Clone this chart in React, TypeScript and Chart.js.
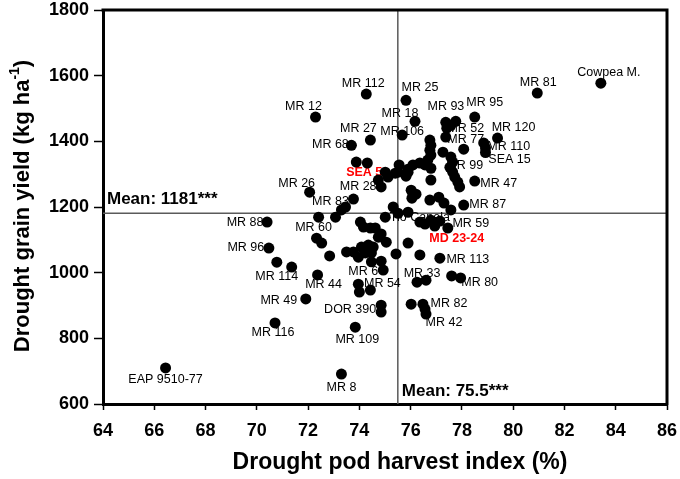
import React, { useEffect, useRef } from 'react';
import Chart from 'chart.js/auto';

const FAMILY = 'Arial, "Liberation Sans", sans-serif';

// axes
const xMin = 64;
const xMax = 86;
const xStep = 2;
const yMin = 600;
const yMax = 1800;
const yStep = 200;
const xTitle = 'Drought pod harvest index (%)';
const yTitleMain = 'Drought grain yield (kg ha';
const yTitleSup = '-1';

// trial means
const meanPhi = 75.5;
const meanYield = 1181;

// labelled genotypes
const labelNames = [
  'Cowpea M.', 'MR 81', 'MR 112', 'MR 25', 'MR 12', 'MR 18', 'MR 95', 'MR 93', 'MR 52',
  'MR 106', 'MR 27', 'MR 68', 'MR 120', 'MR 77', 'MR 110', 'SEA 15', 'MR 99', 'MR 47',
  'MR 87', 'MR 59', 'MD 23-24', 'Tio Canela', 'SEA 5', 'MR 26', 'MR 28', 'MR 83', 'MR 88',
  'MR 96', 'MR 60', 'MR 114', 'MR 44', 'MR 6', 'MR 54', 'MR 49', 'DOR 390', 'MR 116',
  'MR 109', 'EAP 9510-77', 'MR 8', 'MR 33', 'MR 113', 'MR 80', 'MR 82', 'MR 42',
];
const labelPhi = [
  83.42, 80.94, 74.27, 75.82, 72.29, 76.17, 78.5, 77.57, 77.41,
  75.67, 74.43, 73.69, 79.39, 78.07, 78.85, 78.92, 77.53, 78.5,
  78.07, 77.45, 76.94, 76.36, 75.01, 72.06, 74.85, 73.77, 70.4,
  70.47, 72.33, 71.36, 72.37, 74.93, 74.43, 71.91, 74.85, 70.71,
  73.84, 66.44, 73.3, 76.25, 77.14, 77.95, 76.48, 76.6,
];
const labelYield = [
  1577, 1547, 1544, 1525, 1474, 1461, 1474, 1449, 1440,
  1419, 1404, 1388, 1410, 1376, 1395, 1366, 1321, 1279,
  1206, 1136, 1142, 1154, 1306, 1245, 1261, 1224, 1154,
  1075, 1105, 1017, 993, 1008, 947, 920, 901, 847,
  834, 710, 691, 971, 1044, 984, 904, 874,
];
const highlighted = ['SEA 5', 'MD 23-24'];
const behindDots = ['Tio Canela'];

// unlabelled genotypes
const otherPhi = [
  77.76, 77.37, 77.37, 76.75, 76.79, 76.75, 78.92, 77.26, 77.57, 77.64,
  76.79, 76.67, 76.56, 76.79, 76.36, 76.09, 75.51, 75.9, 75.82, 77.64,
  77.72, 77.84, 77.91, 76.79, 76.02, 76.21, 76.05, 76.75, 77.1, 77.3,
  77.57, 75.51, 75.9, 75.32, 76.56, 76.79, 77.14, 74.85, 74.74, 75.05,
  76.36, 75.9, 75.43, 76.6, 77.6, 76.02, 76.56, 74.85, 73.96, 74.0,
  74.47, 74.85, 70.78, 72.41, 73.07, 74.04, 74.16, 74.43, 74.62, 75.01,
  72.53, 72.84, 74.08, 74.35, 74.54, 73.5, 73.77, 73.96, 74.23, 74.47,
  73.88, 74.31, 74.74, 75.12, 75.4, 75.55, 75.9, 73.46, 73.3,
];
const otherYield = [
  1461, 1458, 1413, 1404, 1388, 1373, 1380, 1367, 1352, 1337,
  1358, 1343, 1328, 1318, 1334, 1328, 1306, 1306, 1294, 1306,
  1291, 1276, 1261, 1282, 1251, 1239, 1227, 1221, 1230, 1212,
  1191, 1181, 1184, 1200, 1148, 1160, 1157, 1118, 1108, 1093,
  1054, 1090, 1057, 977, 990, 904, 889, 880, 965, 941,
  1033, 1035, 1032, 1169, 1169, 1154, 1139, 1136, 1136, 1169,
  1090, 1051, 1078, 1084, 1078, 1063, 1063, 1047, 1060, 1060,
  1337, 1334, 1282, 1291, 1303, 1328, 1315, 1200, 1191,
];

// label offsets from the dot centre, in pixels
const labelOffsets: Record<string, [number, number]> = {
  'Cowpea M.': [8, -11], 'MR 81': [1, -11], 'MR 112': [-3, -11], 'MR 25': [14, -13],
  'MR 12': [-12, -10], 'MR 18': [-15, -8], 'MR 95': [10, -14], 'MR 93': [-5, -19],
  'MR 52': [19, 0], 'MR 106': [0, -4], 'MR 27': [-12, -11], 'MR 68': [-21, -1],
  'MR 120': [16, -11], 'MR 77': [2, -10], 'MR 110': [25, 4], 'SEA 15': [24, 7],
  'MR 99': [15, -2], 'MR 47': [24, 2], 'MR 87': [24, 0], 'MR 59': [23, -4],
  'MD 23-24': [22, 13], 'Tio Canela': [0, -5], 'SEA 5': [-21, 0], 'MR 26': [-13, -9],
  'MR 28': [-23, 0], 'MR 83': [-23, 2], 'MR 88': [-22, 0], 'MR 96': [-23, 0],
  'MR 60': [-3, -11], 'MR 114': [-15, 9], 'MR 44': [6, 10], 'MR 6': [-20, 2],
  'MR 54': [12, -7], 'MR 49': [-27, 2], 'DOR 390': [-31, 4], 'MR 116': [-2, 10],
  'MR 109': [2, 12], 'EAP 9510-77': [0, 12], 'MR 8': [0, 13], 'MR 33': [5, -9],
  'MR 113': [28, 1], 'MR 80': [19, 5], 'MR 82': [26, -1], 'MR 42': [18, 9],
};

const drawLabels = (chart: Chart, back: boolean) => {
  const { ctx } = chart;
  const x = chart.scales.x;
  const y = chart.scales.y;
  ctx.save();
  ctx.textAlign = 'center';
  ctx.textBaseline = 'middle';
  labelNames.forEach((name, i) => {
    if (behindDots.includes(name) !== back) return;
    const [dx, dy] = labelOffsets[name] || [0, -10];
    const red = highlighted.includes(name);
    ctx.font = (red ? 'bold ' : '') + '12.5px ' + FAMILY;
    ctx.fillStyle = red ? '#ff0000' : '#000';
    ctx.fillText(name, x.getPixelForValue(labelPhi[i]) + dx, y.getPixelForValue(labelYield[i]) + dy);
  });
  ctx.restore();
};

const decorations = {
  id: 'decorations',
  beforeDatasetsDraw(chart: Chart) {
    const { ctx, chartArea: a } = chart;
    const mx = chart.scales.x.getPixelForValue(meanPhi);
    const my = chart.scales.y.getPixelForValue(meanYield);
    ctx.save();
    ctx.strokeStyle = '#5a5a5a';
    ctx.lineWidth = 1.5;
    ctx.beginPath();
    ctx.moveTo(mx, a.top);
    ctx.lineTo(mx, a.bottom);
    ctx.moveTo(a.left, my);
    ctx.lineTo(a.right, my);
    ctx.stroke();
    ctx.restore();
    drawLabels(chart, true);
    drawLabels(chart, false);
  },
  afterDraw(chart: Chart) {
    const { ctx, chartArea: a } = chart;
    const mx = chart.scales.x.getPixelForValue(meanPhi);
    const my = chart.scales.y.getPixelForValue(meanYield);
    ctx.save();
    // top and right frame
    ctx.strokeStyle = '#000';
    ctx.lineWidth = 3;
    ctx.lineCap = 'square';
    ctx.beginPath();
    ctx.moveTo(a.left, a.top);
    ctx.lineTo(a.right, a.top);
    ctx.lineTo(a.right, a.bottom);
    ctx.stroke();

    // mean labels
    ctx.fillStyle = '#000';
    ctx.font = 'bold 17px ' + FAMILY;
    ctx.textAlign = 'left';
    ctx.textBaseline = 'alphabetic';
    ctx.fillText('Mean: ' + meanYield + '***', a.left + 4, my - 9);
    ctx.fillText('Mean: ' + meanPhi + '***', mx + 4, a.bottom - 8);

    // x title
    ctx.font = 'bold 23px ' + FAMILY;
    ctx.textAlign = 'center';
    ctx.textBaseline = 'middle';
    ctx.fillText(xTitle, 400, 463);

    // y title with superscript
    ctx.translate(23, 206);
    ctx.rotate(-Math.PI / 2);
    ctx.textAlign = 'left';
    const mainFont = 'bold 22px ' + FAMILY;
    const supFont = 'bold 14px ' + FAMILY;
    ctx.font = mainFont;
    const w1 = ctx.measureText(yTitleMain).width;
    const w3 = ctx.measureText(')').width;
    ctx.font = supFont;
    const w2 = ctx.measureText(yTitleSup).width;
    let sx = -(w1 + w2 + w3) / 2;
    ctx.font = mainFont;
    ctx.fillText(yTitleMain, sx, 0);
    sx += w1;
    ctx.font = supFont;
    ctx.fillText(yTitleSup, sx, -8);
    sx += w2;
    ctx.font = mainFont;
    ctx.fillText(')', sx, 0);
    ctx.restore();
  },
};

const App: React.FC = () => {
  const canvasRef = useRef<HTMLCanvasElement>(null);
  const chartRef = useRef<Chart | null>(null);

  useEffect(() => {
    if (!canvasRef.current) return;
    if (chartRef.current) chartRef.current.destroy();

    const tickFont = { family: FAMILY, size: 18, weight: 'bold' as const };
    const dotStyle = {
      backgroundColor: '#000',
      borderWidth: 0,
      pointRadius: 5.5,
      pointHoverRadius: 5.5,
    };

    chartRef.current = new Chart(canvasRef.current, {
      type: 'scatter',
      data: {
        datasets: [
          { label: 'other', data: otherPhi.map((v, i) => ({ x: v, y: otherYield[i] })), ...dotStyle },
          { label: 'labelled', data: labelPhi.map((v, i) => ({ x: v, y: labelYield[i] })), ...dotStyle },
        ],
      },
      options: {
        animation: false,
        responsive: true,
        maintainAspectRatio: false,
        layout: { padding: { top: 10, right: 13, left: 0, bottom: 0 } },
        plugins: { legend: { display: false }, tooltip: { enabled: false } },
        scales: {
          x: {
            type: 'linear',
            min: xMin,
            max: xMax,
            ticks: {
              stepSize: xStep,
              font: tickFont,
              color: '#000',
              padding: 10,
              callback: (v: any) => String(v),
            },
            grid: { drawOnChartArea: false, drawTicks: true, tickLength: 6, tickWidth: 1.5, tickColor: '#000' },
            border: { display: true, width: 3, color: '#000' },
            afterFit: (s: any) => {
              s.height = 75;
              s.paddingLeft = 0;
              s.paddingRight = 0;
            },
          },
          y: {
            type: 'linear',
            min: yMin,
            max: yMax,
            ticks: {
              stepSize: yStep,
              font: tickFont,
              color: '#000',
              padding: 5,
              callback: (v: any) => String(v),
            },
            grid: { drawOnChartArea: false, drawTicks: true, tickLength: 9, tickWidth: 1.5, tickColor: '#000' },
            border: { display: true, width: 3, color: '#000' },
            afterFit: (s: any) => {
              s.width = 103;
              s.paddingTop = 0;
              s.paddingBottom = 0;
            },
          },
        },
      },
      plugins: [decorations],
    });

    return () => {
      if (chartRef.current) {
        chartRef.current.destroy();
        chartRef.current = null;
      }
    };
  }, []);

  return (
    <div style={{ position: 'absolute', left: 0, top: 0, width: 680, height: 479, background: '#fff' }}>
      <canvas ref={canvasRef} />
    </div>
  );
};

export default App;
